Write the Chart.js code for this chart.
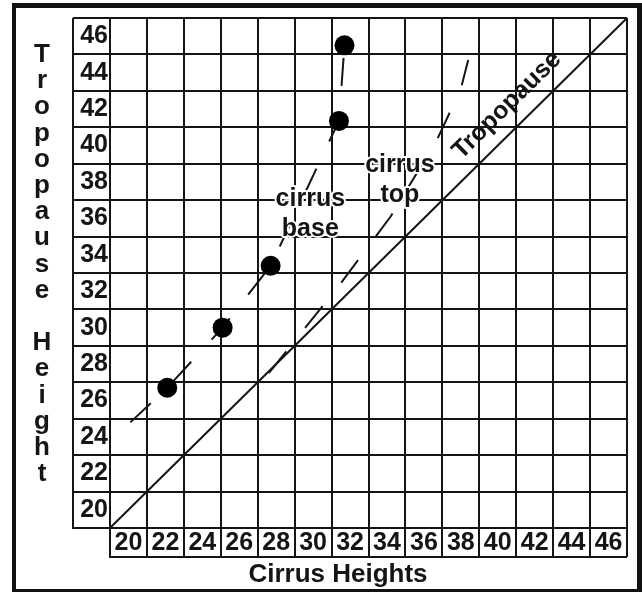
<!DOCTYPE html>
<html>
<head>
<meta charset="utf-8">
<script src="https://cdn.jsdelivr.net/npm/chart.js@4.4.0/dist/chart.umd.min.js"></script>
<style>
  html, body { margin: 0; padding: 0; background: #fff; }
  #frame { position: absolute; left: 12px; top: 3px; width: 621px; height: 581px;
           border-style: solid; border-color: #111; border-width: 5px 5px 4px 4px; }
  #frame canvas { display: block; }
</style>
</head>
<body>
<div id="frame"><canvas id="cirrusChart" width="621" height="581"></canvas></div>
<script>
// axis range: even labels sit in the middle of each cell, lines on odd values
const axisMin = 19, axisMax = 47;

const tropoX = [19, 47];
const tropoY = [19, 47];

const baseX = [20.1, 22.1, 25.1, 27.7, 31.4, 31.7];
const baseY = [24.8, 26.7, 30.0, 33.4, 41.35, 45.5];
const baseMarked = [false, true, true, true, true, true];

const topX = [27.6, 31.4, 34.2, 36.7, 38.0, 38.4];
const topY = [27.5, 32.3, 36.1, 40.3, 43.1, 44.7];

const yTitle = 'Tropopause Height';
const xTitle = 'Cirrus Heights';
const notes = [
    { lines: ['cirrus', 'base'], x: 29.85, y: 36.66 },
    { lines: ['cirrus', 'top'], x: 34.7, y: 38.55 }
];
const tropoNote = { text: 'Tropopause', x: 40.5, y: 42.2 };

const ink = '#151515';
const boldFont = "bold 25px 'Liberation Sans', Arial, sans-serif";
const tickFont = { family: "'Liberation Sans', Arial, sans-serif", size: 25, weight: 'bold' };
const isOdd = v => Math.round(v) % 2 !== 0;
const gridCol = c => (c.tick && isOdd(c.tick.value)) ? ink : 'rgba(0,0,0,0)';
const toPoints = (xs, ys) => xs.map((x, i) => ({ x: x, y: ys[i] }));

// text with a thin white halo so the dashed curves stop at the words
function haloText(ctx, t, px, py) {
    ctx.strokeStyle = '#fff';
    ctx.lineWidth = 4;
    ctx.lineJoin = 'round';
    ctx.strokeText(t, px, py);
    ctx.fillText(t, px, py);
}

const decorations = {
    id: 'decorations',
    afterDatasetsDraw(chart) {
        const { ctx, scales: { x, y } } = chart;
        ctx.save();
        ctx.font = boldFont;
        ctx.fillStyle = ink;
        ctx.textAlign = 'center';
        ctx.textBaseline = 'alphabetic';
        notes.forEach(n => {
            const px = x.getPixelForValue(n.x), py = y.getPixelForValue(n.y);
            n.lines.forEach((t, i) => haloText(ctx, t, px, py + i * 30));
        });
        const ang = Math.atan2(y.getPixelForValue(axisMax) - y.getPixelForValue(axisMin),
                               x.getPixelForValue(axisMax) - x.getPixelForValue(axisMin));
        ctx.translate(x.getPixelForValue(tropoNote.x), y.getPixelForValue(tropoNote.y));
        ctx.rotate(ang);
        ctx.textBaseline = 'middle';
        ctx.fillText(tropoNote.text, 0, 0);
        ctx.restore();
    },
    afterDraw(chart) {
        const { ctx, chartArea: a, scales: { x, y } } = chart;
        ctx.save();
        // outer edges of the label cells
        ctx.strokeStyle = ink;
        ctx.lineWidth = 2;
        ctx.beginPath();
        ctx.moveTo(y.left, a.top);
        ctx.lineTo(y.left, a.bottom + 1);
        ctx.moveTo(a.left - 1, x.top + 29);
        ctx.lineTo(a.right, x.top + 29);
        ctx.stroke();
        // axis titles
        ctx.font = "bold 26px 'Liberation Sans', Arial, sans-serif";
        ctx.fillStyle = ink;
        ctx.textAlign = 'center';
        ctx.textBaseline = 'alphabetic';
        yTitle.split('').forEach((ch, i) => {
            if (ch !== ' ') ctx.fillText(ch, y.left - 31, a.top + 44 + i * 26.2);
        });
        ctx.fillText(xTitle, chart.width / 2 + 11.5, x.bottom - 7);
        ctx.restore();
    }
};

new Chart(document.getElementById('cirrusChart'), {
    type: 'scatter',
    data: {
        datasets: [{
            label: 'Tropopause',
            data: toPoints(tropoX, tropoY),
            showLine: true, borderColor: ink, borderWidth: 2, pointRadius: 0
        }, {
            label: 'cirrus base',
            data: toPoints(baseX, baseY),
            showLine: true, borderColor: ink, borderWidth: 2, borderDash: [28, 30],
            pointRadius: baseMarked.map(m => m ? 10 : 0),
            pointBackgroundColor: '#000', pointBorderWidth: 0
        }, {
            label: 'cirrus top',
            data: toPoints(topX, topY),
            showLine: true, borderColor: ink, borderWidth: 2, borderDash: [28, 30], pointRadius: 0
        }]
    },
    options: {
        responsive: false, devicePixelRatio: 1, animation: false,
        layout: { padding: { left: 57, top: 0, right: 0, bottom: 0 } },
        plugins: { legend: { display: false }, tooltip: { enabled: false } },
        scales: {
            x: {
                type: 'linear', min: axisMin, max: axisMax,
                ticks: { stepSize: 1, autoSkip: false, maxRotation: 0, padding: -29, color: ink, font: tickFont,
                         callback: v => isOdd(v) ? '' : String(v) },
                grid: { color: gridCol, tickColor: gridCol, lineWidth: 2, tickWidth: 2, tickLength: 29 },
                border: { color: ink, width: 2 },
                afterFit: s => { s.height = 61; s.paddingLeft = 0; s.paddingRight = 0; }
            },
            y: {
                type: 'linear', min: axisMin, max: axisMax,
                ticks: { stepSize: 1, autoSkip: false, padding: -35, color: ink, font: tickFont,
                         callback: v => isOdd(v) ? '' : String(v) },
                grid: { color: gridCol, tickColor: gridCol, lineWidth: 2, tickWidth: 2, tickLength: 37 },
                border: { color: ink, width: 2 },
                afterFit: s => { s.width = 37; s.paddingTop = 0; s.paddingBottom = 0; }
            }
        }
    },
    plugins: [decorations]
});
</script>
</body>
</html>
